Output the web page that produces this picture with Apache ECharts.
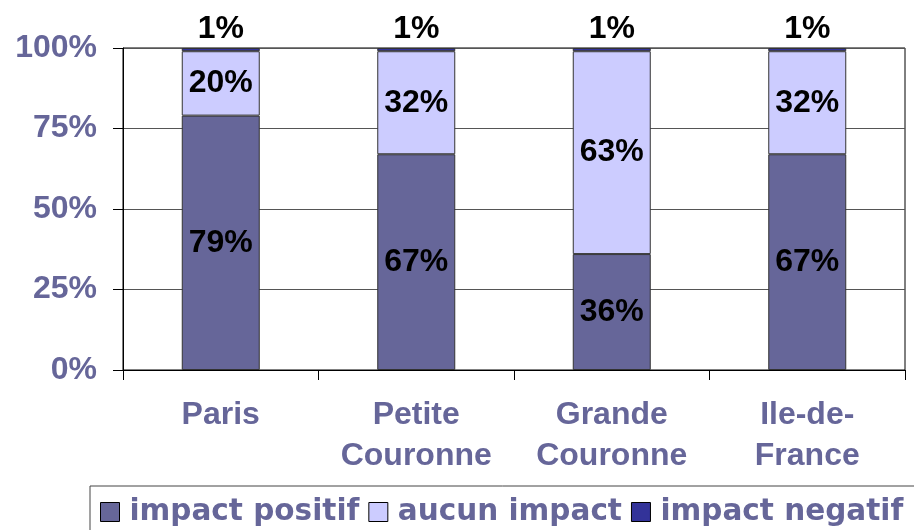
<!DOCTYPE html>
<html>
<head>
<meta charset="utf-8">
<script src="https://cdn.jsdelivr.net/npm/echarts@6/dist/echarts.min.js"></script>
<style>
  html, body { margin: 0; padding: 0; background: #fff; }
  #chart { width: 914px; height: 530px; }
</style>
</head>
<body>
<div id="chart"></div>
<script>
let categories = ['Paris', 'Petite\nCouronne', 'Grande\nCouronne', 'Ile-de-\nFrance'];
let impactPositif = [79, 67, 36, 67];
let aucunImpact = [20, 32, 63, 32];
let impactNegatif = [1, 1, 1, 1];
let yTicks = [0, 25, 50, 75, 100];

let axisColor = '#666699';
let labelFont = 'Liberation Sans, Arial, sans-serif';

let chart = echarts.init(document.getElementById('chart'));

function barLabel(position) {
    return {
        show: true,
        position: position,
        distance: 3,
        color: '#000',
        fontFamily: labelFont,
        fontWeight: 'bold',
        fontSize: 32,
        formatter: '{c}%'
    };
}

let option = {
    backgroundColor: '#fff',
    animation: false,
    color: ['#666699', '#ccccff', '#333399'],
    grid: {
        left: 123,
        right: 9,
        top: 48,
        bottom: 160,
        show: true,
        borderColor: '#000',
        borderWidth: 1
    },
    legend: {
        left: 90,
        top: 486,
        width: 880,
        padding: [11, 80, 30, 10],
        borderColor: '#444',
        borderWidth: 1,
        itemGap: 9,
        itemWidth: 19,
        itemHeight: 19,
        icon: 'rect',
        itemStyle: {
            borderColor: '#000',
            borderWidth: 1
        },
        textStyle: {
            color: axisColor,
            fontFamily: 'DejaVu Sans, sans-serif',
            fontWeight: 'bold',
            fontSize: 29.5,
            padding: [0, 0, 0, 5]
        },
        data: ['impact positif', 'aucun impact', 'impact negatif']
    },
    xAxis: {
        type: 'category',
        data: categories,
        axisLine: { lineStyle: { color: '#000', width: 1 } },
        axisTick: { show: true, interval: 0, length: 10, lineStyle: { color: '#000' } },
        axisLabel: {
            interval: 0,
            color: axisColor,
            fontFamily: labelFont,
            fontWeight: 'bold',
            fontSize: 32,
            lineHeight: 41,
            margin: 25
        }
    },
    yAxis: {
        type: 'value',
        min: yTicks[0],
        max: yTicks[yTicks.length - 1],
        interval: 25,
        axisLine: { show: true, lineStyle: { color: '#000', width: 1 } },
        axisTick: { show: true, length: 10, lineStyle: { color: '#000' } },
        splitLine: { show: true, lineStyle: { color: '#555', width: 1 } },
        axisLabel: {
            color: axisColor,
            fontFamily: labelFont,
            fontWeight: 'bold',
            fontSize: 32,
            margin: 26,
            formatter: '{value}%'
        }
    },
    series: [{
        name: 'impact positif',
        type: 'bar',
        stack: 'total',
        barWidth: 78,
        data: impactPositif,
        itemStyle: { borderColor: '#333', borderWidth: 1 },
        label: barLabel('inside')
    }, {
        name: 'aucun impact',
        type: 'bar',
        stack: 'total',
        barWidth: 78,
        data: aucunImpact,
        itemStyle: { borderColor: '#333', borderWidth: 1 },
        label: barLabel('inside')
    }, {
        name: 'impact negatif',
        type: 'bar',
        stack: 'total',
        barWidth: 78,
        data: impactNegatif,
        itemStyle: { borderColor: '#333', borderWidth: 1 },
        label: barLabel('top')
    }]
};

chart.setOption(option);
</script>
</body>
</html>
